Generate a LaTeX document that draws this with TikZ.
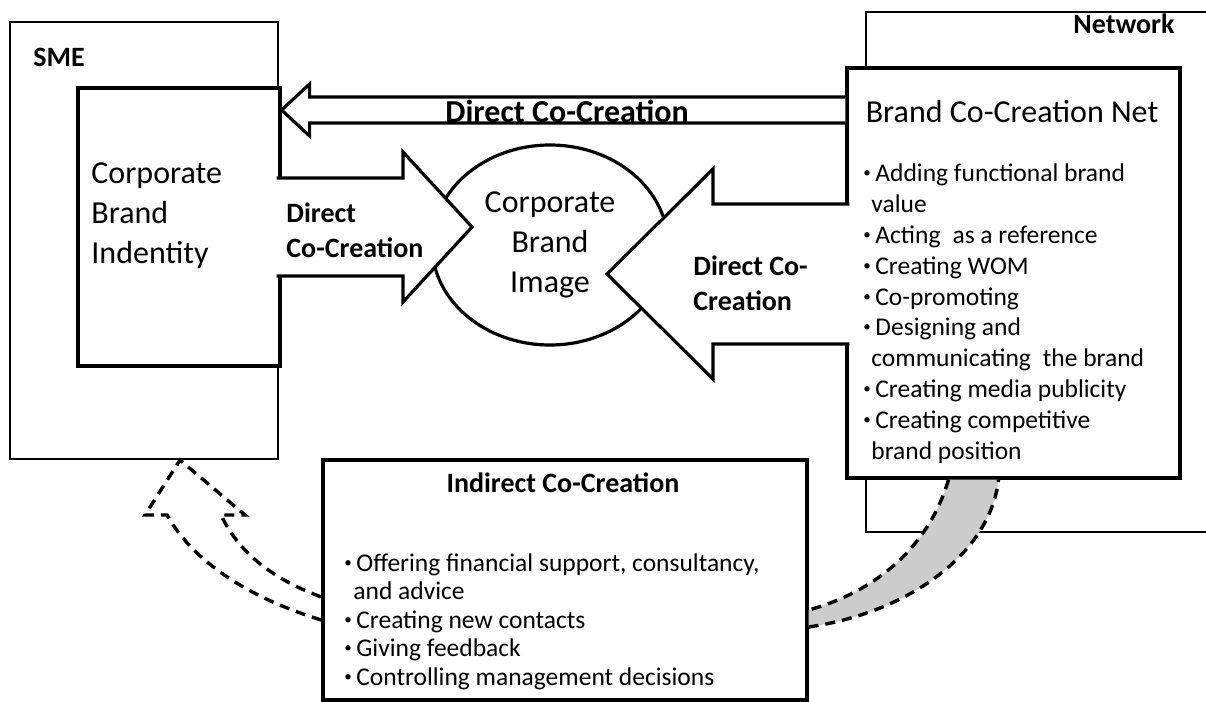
\documentclass[tikz,border=0pt]{standalone}
\usepackage{fontspec}
\setmainfont{Carlito}
\usetikzlibrary{shapes.geometric, calc}

% block arrow: tail, tip, half shaft, half head, head length
\newcommand{\blockarrow}[5]{%
  \filldraw[blockarrow] ($(#1)+(0,-#3)$) -- ($(#2)+(#5,-#3)$) -- ($(#2)+(#5,-#4)$)
    -- (#2) -- ($(#2)+(#5,#4)$) -- ($(#2)+(#5,#3)$) -- ($(#1)+(0,#3)$);}
% small list bullet
\newcommand{\itm}{\makebox[6pt][l]{\raisebox{2pt}{\fontsize{7.5}{7.5}\selectfont\textbullet}}}

\begin{document}
\begin{tikzpicture}[
    x=0.5pt, y=-0.5pt,
    frame/.style={rectangle, draw, line width=1pt, inner sep=0pt},
    box/.style={rectangle, draw, line width=1.6pt, fill=white, inner sep=0pt},
    blockarrow/.style={draw, line width=1.6pt, fill=white, line join=miter},
    big/.style={font=\fontsize{16}{20}\selectfont, inner sep=0pt},
    tag/.style={font=\bfseries\fontsize{14}{17.5}\selectfont, inner sep=0pt, align=left},
    items/.style={font=\fontsize{12.75}{15.4}\selectfont, inner sep=0pt, align=left},
    dashedge/.style={line width=1.7pt, dash pattern=on 5pt off 3.5pt},
    band/.style={fill=black!20}
]
\useasboundingbox (0,0) rectangle (1206,702);

% frames and boxes
\node[frame, minimum width=172pt, minimum height=260pt] (network) at (1038,272) {};
\node[frame, minimum width=134pt, minimum height=218.5pt] (sme) at (144,240.5) {};
\node[box, minimum width=101pt, minimum height=139pt] (identity) at (179,227) {};
\node[draw, ellipse, line width=1.6pt, minimum width=118pt, minimum height=100pt,
      big, align=center] (image) at (550,245) {Corporate\\Brand\\Image};
\node[box, minimum width=166.5pt, minimum height=205pt] (brand) at (1013.5,273) {};
\node[box, minimum width=242pt, minimum height=120pt] (indirect) at (565,580) {};

% direct co-creation arrows
\coordinate (toptail) at (brand.west |- 0,110);
\coordinate (toptip) at (identity.east |- 0,110);
\blockarrow{toptail}{toptip}{13}{26}{28}
\coordinate (lefttail) at ($(identity.east |- 0,227)+(-5,0)$);
\coordinate (lefttip) at (472,227);
\blockarrow{lefttail}{lefttip}{49}{75}{-69}
\coordinate (righttail) at ($(brand.west |- 0,274)+(4,0)$);
\coordinate (righttip) at (607,274);
\blockarrow{righttail}{righttip}{70}{105}{106}

% indirect co-creation: shaded band to the net
\coordinate (bandA) at ($(brand.south)+(-65,0)$);
\coordinate (bandB) at ($(brand.south)+(-15,0)$);
\coordinate (bandC) at ($(indirect.east)+(0,30)$);
\coordinate (bandD) at ($(indirect.east)+(0,47)$);
\fill[band] (bandA) .. controls +(-18,62) and +(73,-20) .. (bandC) -- (bandD)
  .. controls +(103,-15) and +(-8,72) .. (bandB) -- cycle;
\draw[dashedge] (bandA) .. controls +(-18,62) and +(73,-20) .. (bandC);
\draw[dashedge] (bandD) .. controls +(103,-15) and +(-8,72) .. (bandB);

% dashed block arrow back to the SME
\coordinate (dtip) at ($(sme.south)+(36,0)$);
\draw[dashedge, line join=miter] ($(indirect.west)+(0,40)$) .. controls +(-66,-20) and +(28,50) .. ($(dtip)+(-13,55)$)
  -- ++(-22,0) -- (dtip) -- ++(65,55) -- ++(-24,0)
  .. controls +(19,40) and +(-46,-17) .. ($(indirect.west)+(0,17)$);

% labels (multi-line nodes sit on their last baseline)
\node[tag, anchor=base west] (smelabel) at (33,66) {SME};
\node[tag, anchor=base east] (netlabel) at (1175,33) {Network};
\node[big, align=left, anchor=base west] (idlabel) at (91,263) {Corporate\\Brand\\Indentity};
\node[big, anchor=base] (brandlabel) at (1012,122) {Brand Co-Creation Net};
\node[tag, font=\bfseries\fontsize{16}{19}\selectfont, anchor=base west] (toplabel) at (445,122) {Direct Co-Creation};
\node[tag, anchor=base west] (leftlabel) at (286,257) {Direct\\Co-Creation};
\node[tag, anchor=base west] (rightlabel) at (693,310) {Direct Co-\\Creation};
\node[tag, anchor=base] (indlabel) at (563,492) {Indirect Co-Creation};

\node[items, anchor=base west] (brandlist) at (863,459) {%
  \itm Adding functional brand\\
  \hspace*{4pt}value\\
  \itm Acting\hspace{6pt}as a reference\\
  \itm Creating WOM\\
  \itm Co-promoting\\
  \itm Designing and\\
  \hspace*{4pt}communicating\hspace{6pt}the brand\\
  \itm Creating media publicity\\
  \itm Creating competitive\\
  \hspace*{4pt}brand position};
\node[items, font=\fontsize{12.75}{14.25}\selectfont, anchor=base west] (indlist) at (344,685) {%
  \itm Offering financial support, consultancy,\\
  \hspace*{4.5pt}and advice\\
  \itm Creating new contacts\\
  \itm Giving feedback\\
  \itm Controlling management decisions};
\end{tikzpicture}
\end{document}
